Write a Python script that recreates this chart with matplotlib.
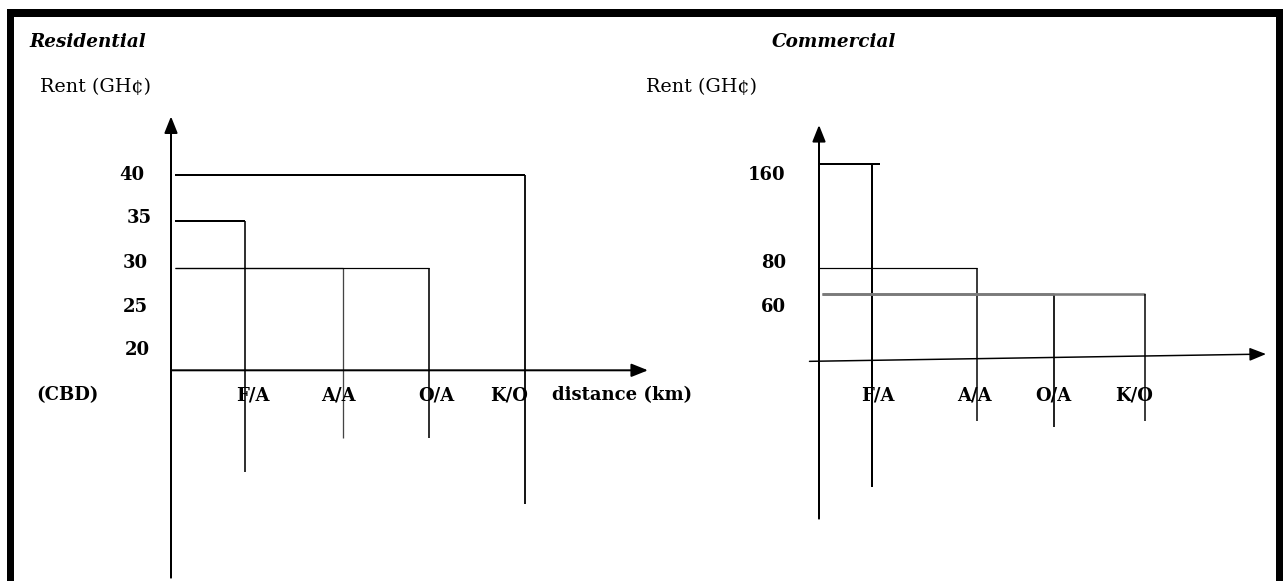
import matplotlib
matplotlib.use("Agg")
import matplotlib.pyplot as plt
from matplotlib.patches import Rectangle

# ---------------- data ----------------
categories = ["F/A", "A/A", "O/A", "K/O"]

res_distance = [7.4, 17.2, 25.8, 35.4]      # distance from CBD (diagram units)
res_rent = [35, 30, 30, 40]                 # GH¢
res_ticks = [40, 35, 30, 25, 20]

com_distance = [5.3, 15.8, 23.5, 32.6]
com_rent = [160, 80, 60, 60]
com_ticks = [160, 80, 60]

# ---------------- layout / style ----------------
W, H = 1283, 581
DPI = 100
FONT = "DejaVu Serif"
PX = 0.72  # points per pixel at 100 dpi
FS = 13

fig = plt.figure(figsize=(W / DPI, H / DPI), dpi=DPI)
fig.patch.set_facecolor("white")


def make_axes(origin_px, unit_px, anchor_val, anchor_py, py_per_unit):
    ax = fig.add_axes([0, 0, 1, 1])
    ax.set_xlim(-origin_px / unit_px, (W - origin_px) / unit_px)
    top = anchor_val + anchor_py / py_per_unit
    bottom = anchor_val - (H - anchor_py) / py_per_unit
    ax.set_ylim(bottom, top)
    ax.axis("off")
    ax.patch.set_alpha(0)
    return ax


def arrow(ax, start, tip, lw):
    ax.annotate("", xy=tip, xytext=start,
                arrowprops=dict(arrowstyle="-|>,head_length=0.5,head_width=0.2",
                                lw=lw, color="black", shrinkA=0, shrinkB=0,
                                mutation_scale=20))


label_y = 1 - 395 / H   # axes fraction of category labels

# ---------------- Residential ----------------
axr = make_axes(171, 10, 40, 175, 9.3)
res_base = 19.0
res_hstart = 0.4
res_drop = [8.1, 11.75, 11.75, 4.65]
res_hlw = [2.0, 1.2, 1.2, 2.0]
res_vlw = [1.6, 1.3, 1.6, 1.8]
res_vcol = ["black", "#444444", "black", "black"]
res_lab_dx = [7.5, -5, 7, -16]

arrow(axr, (0, -3.3), (0, 46.3), 2.0 * PX)
arrow(axr, (0, res_base), (47.7, res_base), 2.0 * PX)

for d, r, dr, hl, vl, vc in zip(res_distance, res_rent, res_drop, res_hlw, res_vlw, res_vcol):
    axr.plot([res_hstart, d], [r, r], color="black", lw=hl * PX, solid_capstyle="butt")
    axr.plot([d, d], [r, dr], color=vc, lw=vl * PX, solid_capstyle="butt")

res_tick_dx = [-39, -32, -36, -36, -34]
res_tick_dy = [0, 3.2, 4.7, 7.8, 11]
for t, dx, dy in zip(res_ticks, res_tick_dx, res_tick_dy):
    axr.annotate(str(t), xy=(0, t), xytext=(dx, dy), textcoords="offset pixels",
                 ha="center", va="center", fontsize=FS, fontweight="bold", family=FONT)

for c, d, dx in zip(categories, res_distance, res_lab_dx):
    axr.annotate(c, xy=(d, label_y), xycoords=axr.get_xaxis_transform(),
                 xytext=(dx, 0), textcoords="offset pixels",
                 ha="center", va="center", fontsize=FS, fontweight="bold", family=FONT)

axr.text(-10.35, label_y, "(CBD)", transform=axr.get_xaxis_transform(),
         ha="center", va="center", fontsize=FS, fontweight="bold", family=FONT)
axr.text(45.1, label_y, "distance (km)", transform=axr.get_xaxis_transform(),
         ha="center", va="center", fontsize=FS, fontweight="bold", family=FONT)

# ---------------- Commercial ----------------
axc = make_axes(819, 10, 80, 268, 1.3)
com_hstart = [0, 0, 0.34, 0.34]
com_hend_extra = [0.8, 0, 0, 0]
com_drop = [-88.2, -37.5, -42, -37.5]
com_hlw = [2.0, 1.2, 2.6, 2.6]
com_hcol = ["black", "black", "#7a7a7a", "#7a7a7a"]
com_vlw = [2.0, 1.5, 1.7, 1.5]
com_lab_dx = [5.5, -2.5, -0.7, -11]

arrow(axc, (0, -112.8), (0, 190), 2.0 * PX)
arrow(axc, (-0.95, 8.2), (44.7, 13.8), 1.5 * PX)

for d, r, dr, hs, he, hl, hc, vl in zip(com_distance, com_rent, com_drop, com_hstart,
                                        com_hend_extra, com_hlw, com_hcol, com_vlw):
    axc.plot([hs, d + he], [r, r], color=hc, lw=hl * PX, solid_capstyle="butt")
    axc.plot([d, d], [r, dr], color="black", lw=vl * PX, solid_capstyle="butt")

com_tick_dx = [-52.5, -45.5, -45.5]
com_tick_dy = [-11, 5.3, -13]
for t, dx, dy in zip(com_ticks, com_tick_dx, com_tick_dy):
    axc.annotate(str(t), xy=(0, t), xytext=(dx, dy), textcoords="offset pixels",
                 ha="center", va="center", fontsize=FS, fontweight="bold", family=FONT)

for c, d, dx in zip(categories, com_distance, com_lab_dx):
    axc.annotate(c, xy=(d, label_y), xycoords=axc.get_xaxis_transform(),
                 xytext=(dx, 0), textcoords="offset pixels",
                 ha="center", va="center", fontsize=FS, fontweight="bold", family=FONT)

# ---------------- titles ----------------
fig.text(29 / W, 1 - 42 / H, "Residential", ha="left", va="center", fontsize=13.2,
         fontweight="bold", style="italic", family=FONT)
fig.text(40 / W, 1 - 87 / H, "Rent (GH¢)", ha="left", va="center", fontsize=13.8,
         family=FONT)
fig.text(772 / W, 1 - 42 / H, "Commercial", ha="left", va="center", fontsize=13.2,
         fontweight="bold", style="italic", family=FONT)
fig.text(646 / W, 1 - 87 / H, "Rent (GH¢)", ha="left", va="center", fontsize=13.8,
         family=FONT)

# ---------------- frame ----------------
for (x0, y0, x1, y1) in [(7, 9, 1283, 17), (7, 9, 14, 581), (1276, 9, 1283, 581)]:
    fig.add_artist(Rectangle((x0 / W, 1 - y1 / H), (x1 - x0) / W, (y1 - y0) / H,
                             transform=fig.transFigure, color="black", lw=0))

fig.savefig("out.png", dpi=DPI)
